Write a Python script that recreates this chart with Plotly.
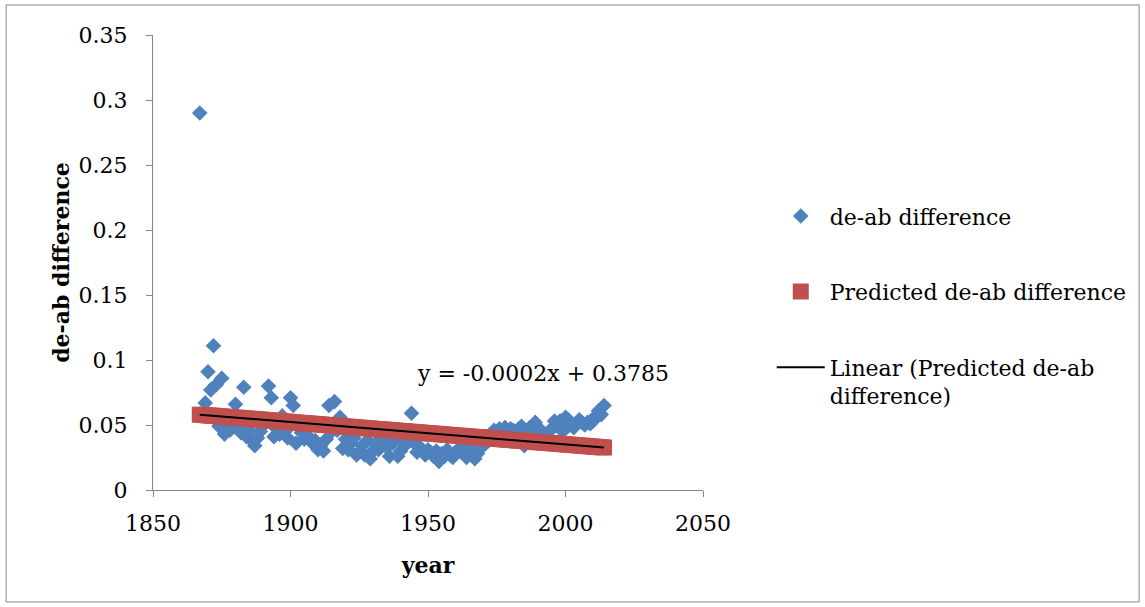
import plotly.graph_objects as go

# ---- data ----
years = list(range(1867, 2015))
de_ab_diff = [
    0.290, 0.058, 0.067, 0.091, 0.077, 0.111, 0.081, 0.049, 0.086, 0.043,  # 1867-1876
    0.050, 0.046, 0.052, 0.066, 0.048, 0.044, 0.079, 0.041, 0.046, 0.038,  # 1877-1886
    0.034, 0.040, 0.045, 0.050, 0.052, 0.080, 0.071, 0.041, 0.047, 0.043,  # 1887-1896
    0.057, 0.045, 0.040, 0.071, 0.065, 0.036, 0.048, 0.044, 0.039, 0.042,  # 1897-1906
    0.040, 0.036, 0.038, 0.031, 0.034, 0.030, 0.039, 0.065, 0.045, 0.068,  # 1907-1916
    0.046, 0.056, 0.032, 0.039, 0.031, 0.036, 0.040, 0.027, 0.029, 0.034,  # 1917-1926
    0.027, 0.038, 0.024, 0.030, 0.036, 0.031, 0.034, 0.040, 0.033, 0.026,  # 1927-1936
    0.036, 0.038, 0.026, 0.030, 0.037, 0.035, 0.040, 0.059, 0.036, 0.029,  # 1937-1946
    0.033, 0.030, 0.027, 0.031, 0.029, 0.026, 0.030, 0.022, 0.028, 0.026,  # 1947-1956
    0.031, 0.027, 0.025, 0.029, 0.031, 0.033, 0.028, 0.025, 0.031, 0.030,  # 1957-1966
    0.024, 0.028, 0.032, 0.034, 0.036, 0.038, 0.041, 0.046, 0.044, 0.047,  # 1967-1976
    0.045, 0.048, 0.046, 0.047, 0.046, 0.045, 0.047, 0.049, 0.034, 0.046,  # 1977-1986
    0.048, 0.047, 0.052, 0.048, 0.046, 0.044, 0.042, 0.045, 0.047, 0.053,  # 1987-1996
    0.050, 0.053, 0.045, 0.056, 0.054, 0.050, 0.048, 0.051, 0.054, 0.052,  # 1997-2006
    0.050, 0.052, 0.051, 0.053, 0.057, 0.061, 0.058, 0.065,                # 2007-2014
]
fit_slope = -0.0001717
fit_intercept = 0.3785
predicted = [fit_intercept + fit_slope * yr for yr in years]

x_ticks = [1850, 1900, 1950, 2000, 2050]
y_ticks = [0, 0.05, 0.1, 0.15, 0.2, 0.25, 0.3, 0.35]
y_tick_text = ["0", "0.05", "0.1", "0.15", "0.2", "0.25", "0.3", "0.35"]
equation_text = "y = -0.0002x + 0.3785"

FONT = "DejaVu Serif"
FS = 22
AXIS_COLOR = "#868686"

fig = go.Figure()
fig.add_trace(go.Scatter(
    x=years, y=de_ab_diff, mode="markers", name="de-ab difference",
    legendgroup="a",
    marker=dict(symbol="diamond", size=12, color="#4F81BD", line=dict(width=0)),
))
fig.add_trace(go.Scatter(
    x=years, y=predicted, mode="markers", name="Predicted de-ab difference",
    legendgroup="b",
    marker=dict(symbol="square", size=16, color="#C0504D", line=dict(width=0)),
))
fig.add_trace(go.Scatter(
    x=years, y=predicted, mode="lines",
    name="Linear (Predicted de-ab<br>difference)",
    legendgroup="c",
    line=dict(color="black", width=2),
))

fig.add_annotation(
    x=1991.9, y=0.0896, xref="x", yref="y", text=equation_text,
    showarrow=False, font=dict(family=FONT, size=FS, color="black"),
)

fig.add_shape(
    type="rect", xref="paper", yref="paper",
    x0=-0.267, x1=1.793, y0=-0.246, y1=1.066,
    line=dict(color=AXIS_COLOR, width=1), fillcolor="rgba(0,0,0,0)", layer="below",
)

fig.update_layout(
    width=1145, height=607, autosize=False,
    margin=dict(l=153, r=442, t=35, b=117),
    paper_bgcolor="white", plot_bgcolor="white",
    font=dict(family=FONT, size=FS, color="black"),
    showlegend=True,
    legend=dict(
        x=1.125, xanchor="left", y=0.648, yanchor="top",
        traceorder="grouped", tracegroupgap=44, itemwidth=48, valign="top",
        font=dict(family=FONT, size=FS, color="black"),
        bgcolor="rgba(0,0,0,0)",
    ),
    xaxis=dict(
        range=[1850, 2050], tickvals=x_ticks, ticktext=[str(v) for v in x_ticks],
        showgrid=False, zeroline=False, showline=True, linecolor=AXIS_COLOR, linewidth=1,
        ticks="outside", ticklen=6, tickcolor=AXIS_COLOR, ticklabelstandoff=8,
        tickfont=dict(family=FONT, size=FS, color="black"),
        title=dict(text="<b>year</b>", font=dict(family=FONT, size=FS, color="black"), standoff=22),
    ),
    yaxis=dict(
        range=[0, 0.35], tickvals=y_ticks, ticktext=y_tick_text,
        showgrid=False, zeroline=False, showline=True, linecolor=AXIS_COLOR, linewidth=1,
        ticks="outside", ticklen=6, tickcolor=AXIS_COLOR, ticklabelstandoff=14,
        tickfont=dict(family=FONT, size=FS, color="black"),
        title=dict(text="<b>de-ab difference</b>", font=dict(family=FONT, size=FS, color="black"), standoff=2),
    ),
)

fig.write_html("out.html", config={"displayModeBar": False},
               post_script="document.body.style.margin='0';")
